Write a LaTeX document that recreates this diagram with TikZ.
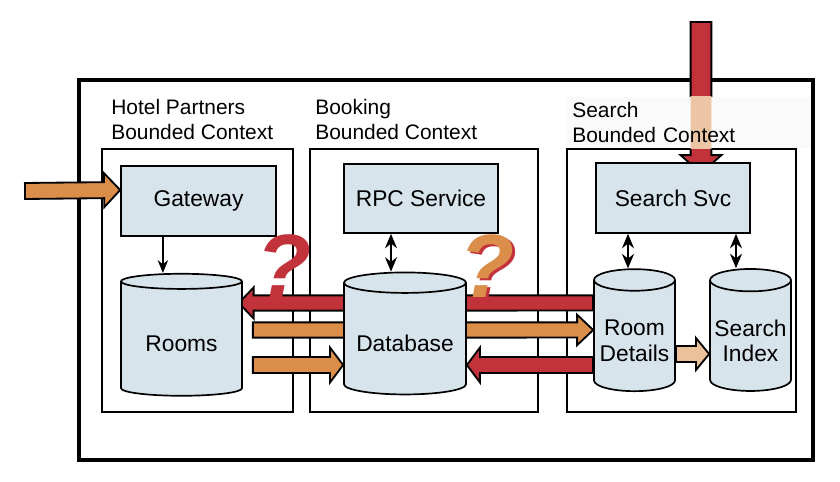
\documentclass[tikz,border=0pt]{standalone}
\usepackage{fontspec}
\setmainfont{Liberation Sans}
\usetikzlibrary{shapes.geometric,arrows.meta,calc}
\definecolor{boxblue}{RGB}{215,228,236}
\definecolor{ddred}{RGB}{194,50,58}
\definecolor{ddorange}{RGB}{218,142,74}
\pgfdeclarelayer{back}
\pgfdeclarelayer{mid}
\pgfsetlayers{back,mid,main}
\tikzset{
  ctxbox/.style={draw, line width=1.4pt},
  svcbox/.style={draw, fill=boxblue, line width=1.2pt, minimum width=3.85cm, minimum height=1.75cm, font=\fontsize{16.2}{18}\selectfont},
  dbcyl/.style={cylinder, shape border rotate=90, aspect=0.21, draw, fill=boxblue, line width=1.2pt, minimum height=3.05cm, inner sep=0pt, align=center, font=\fontsize{16.2}{17.8}\selectfont},
  dbtext/.style={yshift=-0.12cm, align=center, inner sep=0pt, font=\fontsize{16.2}{17.8}\selectfont},
  ctxtitle/.style={anchor=west, align=left, inner sep=0pt, font=\fontsize{14.9}{17.8}\selectfont},
  thinarrow/.style={line width=1.3pt, -{Stealth[length=0.32cm,width=0.26cm]}},
  dblarrow/.style={line width=1.3pt, {Stealth[length=0.36cm,width=0.3cm]}-{Stealth[length=0.36cm,width=0.3cm]}},
  fatline/.style={draw=black, line width=1.3pt, line join=miter},
  qmark/.style={inner sep=0pt, font=\fontsize{64}{64}\selectfont\bfseries\itshape}
}
% #1 style, #2 from, #3 tip, #4 half shaft, #5 half head, #6 head length
\newcommand{\fatarrow}[6][]{%
  \path (#2) coordinate (fa-a) (#3) coordinate (fa-b) ($(fa-b)!#6!(fa-a)$) coordinate (fa-c);
  \path[#1] ($(fa-a)!#4!90:(fa-b)$) -- ($(fa-c)!#4!-90:(fa-a)$) -- ($(fa-c)!#5!-90:(fa-a)$) -- (fa-b)
    -- ($(fa-c)!#5!90:(fa-a)$) -- ($(fa-c)!#4!90:(fa-a)$) -- ($(fa-a)!#4!-90:(fa-b)$) -- cycle;
}
\begin{document}
\begin{tikzpicture}
  \useasboundingbox (0,0) rectangle (21,12.05);

  \begin{pgfonlayer}{back}
    \draw[line width=2.6pt] (1.975,0.55) rectangle (20.325,10.05);
    \draw[ctxbox] (2.55,1.75) rectangle (7.325,8.325);
    \draw[ctxbox] (7.75,1.75) rectangle (13.45,8.325);
    \draw[ctxbox] (14.175,1.75) rectangle (19.9,8.325);
  \end{pgfonlayer}

  \node[ctxtitle] (hoteltitle) at (2.775,9.06) {Hotel Partners\\Bounded Context};
  \node[ctxtitle] (bookingtitle) at (7.875,9.06) {Booking\\Bounded Context};

  \node[svcbox, minimum width=3.875cm] (gateway) at (4.9625,7.025) {Gateway};
  \node[svcbox, minimum height=1.725cm] (rpc) at (10.525,7.0875) {RPC Service};
  \node[svcbox] (searchsvc) at (16.825,7.1) {Search Svc};

  \node[dbcyl, minimum width=3.025cm, label={[dbtext]center:Rooms}] (rooms) at (4.5375,3.575) {\phantom{Rooms}};
  \node[dbcyl, minimum width=3.05cm, label={[dbtext]center:Database}] (database) at (10.125,3.575) {\phantom{Database}};
  \node[dbcyl, minimum width=2.025cm, aspect=0.31, label={[dbtext]center:Room\\Details}] (roomdetails) at (15.8625,3.65) {\phantom{Room}\\\phantom{Details}};
  \node[dbcyl, minimum width=2.025cm, aspect=0.31, label={[dbtext]center:Search\\Index}] (searchindex) at (18.7625,3.65) {\phantom{Search}\\\phantom{Index}};

  \coordinate (inS) at (0.625,7.275);
  \coordinate (inT) at ($(gateway.west)+(0,0.275)$);
  \coordinate (sS) at (17.525,11.5);
  \coordinate (sT) at ($(searchsvc.north)+(0.7,-0.275)$);
  \coordinate (r1S) at ($(roomdetails.west)+(0,0.825)$);
  \coordinate (r1T) at ($(rooms.east)+(-0.1,0.9)$);
  \coordinate (o1S) at ($(rooms.east)+(0.25,0.225)$);
  \coordinate (o1T) at ($(roomdetails.west)+(0,0.15)$);
  \coordinate (o2S) at ($(rooms.east)+(0.25,-0.65)$);
  \coordinate (o2T) at ($(database.west)+(0,-0.65)$);
  \coordinate (r2S) at ($(roomdetails.west)+(0,-0.725)$);
  \coordinate (r2T) at ($(database.east)+(0,-0.65)$);
  \coordinate (o3S) at ($(roomdetails.east)+(0,-0.45)$);
  \coordinate (o3T) at ($(searchindex.west)+(0,-0.45)$);

  \begin{pgfonlayer}{mid}
    \fatarrow[fatline, fill=ddorange]{inS}{inT}{0.2cm}{0.425cm}{0.4cm}
    \fatarrow[fatline, fill=ddred]{sS}{sT}{0.26cm}{0.51cm}{0.45cm}
    \fatarrow[fatline, fill=ddred]{r1S}{r1T}{0.19cm}{0.39cm}{0.37cm}
    \fatarrow[fatline, fill=ddorange]{o1S}{o1T}{0.19cm}{0.38cm}{0.4cm}
    \fatarrow[fatline, fill=ddorange]{o2S}{o2T}{0.2cm}{0.44cm}{0.33cm}
    \fatarrow[fatline, fill=ddred]{r2S}{r2T}{0.2cm}{0.44cm}{0.33cm}
    \fatarrow[fatline, fill=ddorange!55!white]{o3S}{o3T}{0.2cm}{0.4cm}{0.33cm}
  \end{pgfonlayer}

  \node[ctxtitle, anchor=north west, fill=black!2, text opacity=0, inner xsep=0.125cm, text width=5.85cm, minimum height=1.275cm] (searchtitle) at (14.175,9.625) {Search\\Bounded Context};
  \begin{scope}
    \clip (searchtitle.south west) rectangle (searchtitle.north east);
    \fatarrow[fill=ddorange!50!white]{sS}{sT}{0.26cm}{0.51cm}{0.45cm}
  \end{scope}
  \node[ctxtitle, anchor=north west, inner xsep=0.125cm, text width=5.85cm, minimum height=1.275cm] at (searchtitle.north west) {Search\\Bounded Context};

  \draw[thinarrow] ([xshift=-0.89cm]gateway.south) -- ([xshift=-0.89cm]gateway.south |- rooms.north);
  \draw[dblarrow] ([xshift=-0.75cm]rpc.south) -- ([xshift=-0.75cm]rpc.south |- database.north);
  \draw[dblarrow] ([xshift=-1.125cm]searchsvc.south) -- ([xshift=-1.125cm]searchsvc.south |- roomdetails.north);
  \draw[dblarrow] ([xshift=1.575cm]searchsvc.south) -- ([xshift=1.575cm]searchsvc.south |- searchindex.north);

  \node[qmark, text=ddred] (q1) at (7.1,5.4) {?};
  \node[qmark, text=ddred] (q2shadow) at (12.25,5.35) {?};
  \node[qmark, text=ddorange] (q2) at (12.175,5.4) {?};
\end{tikzpicture}
\end{document}
